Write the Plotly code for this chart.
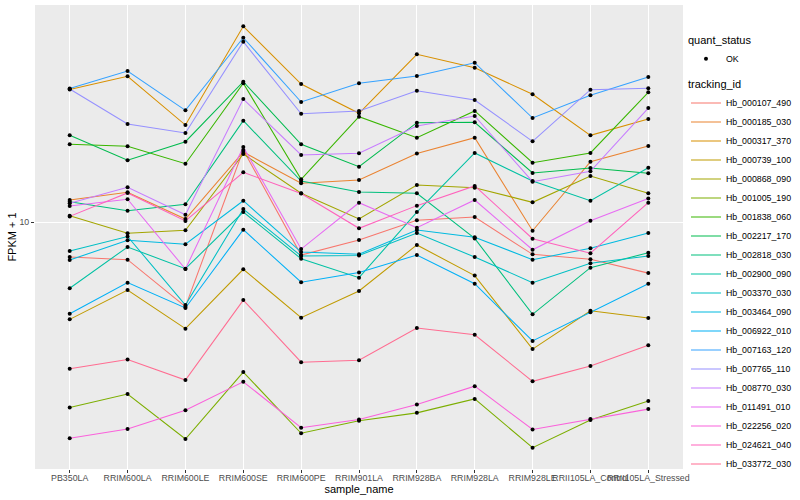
import plotly.graph_objects as go

# ---------------- data (FPKM + 1) ----------------
samples = ["PB350LA", "RRIM600LA", "RRIM600LE", "RRIM600SE", "RRIM600PE",
           "RRIM901LA", "RRIM928BA", "RRIM928LA", "RRIM928LE",
           "RRII105LA_Control", "RRII105LA_Stressed"]

tracking_ids = ["Hb_000107_490", "Hb_000185_030", "Hb_000317_370", "Hb_000739_100",
                "Hb_000868_090", "Hb_001005_190", "Hb_001838_060", "Hb_002217_170",
                "Hb_002818_030", "Hb_002900_090", "Hb_003370_030", "Hb_003464_090",
                "Hb_006922_010", "Hb_007163_120", "Hb_007765_110", "Hb_008770_030",
                "Hb_011491_010", "Hb_022256_020", "Hb_024621_040", "Hb_033772_030"]

hb_000107_490 = [7.83, 7.69, 5.54, 16.53, 7.94, 8.82, 10.12, 10.35, 7.98, 7.71, 7.00]
hb_000185_030 = [11.66, 12.30, 10.21, 16.30, 13.10, 13.41, 16.13, 18.01, 9.41, 15.23, 16.99]
hb_000317_370 = [25.2, 27.64, 19.67, 39.18, 26.19, 21.35, 32.22, 29.35, 24.38, 18.31, 20.51]
hb_000739_100 = [5.07, 6.22, 4.75, 7.19, 5.13, 6.18, 8.52, 6.88, 4.12, 5.38, 5.12]
hb_000868_090 = [10.45, 9.24, 9.44, 16.07, 12.22, 10.21, 12.94, 12.70, 11.47, 13.79, 12.22]
hb_001005_190 = [2.74, 3.01, 2.20, 3.51, 2.29, 2.50, 2.64, 2.91, 2.07, 2.51, 2.87]
hb_001838_060 = [17.20, 16.96, 15.02, 26.33, 13.47, 20.85, 18.01, 21.70, 15.12, 16.19, 24.72]
hb_002217_170 = [18.31, 15.38, 17.51, 26.62, 17.20, 14.71, 20.00, 20.05, 14.08, 14.58, 14.05]
hb_002818_030 = [11.52, 10.82, 11.31, 20.28, 13.31, 12.33, 12.22, 8.92, 5.25, 7.27, 8.07]
hb_002900_090 = [6.30, 8.40, 7.22, 10.72, 7.74, 6.78, 10.72, 16.19, 13.31, 11.60, 14.61]
hb_003370_030 = [8.17, 9.04, 5.60, 10.95, 7.89, 7.92, 9.26, 7.83, 6.55, 7.50, 7.89]
hb_003464_090 = [7.67, 8.80, 8.56, 11.60, 8.11, 7.98, 9.46, 8.99, 7.69, 8.32, 9.26]
hb_006922_010 = [5.27, 6.55, 5.49, 9.48, 6.57, 7.03, 7.94, 6.50, 4.36, 5.33, 6.50]
hb_007163_120 = [25.4, 28.68, 21.80, 36.18, 23.10, 26.33, 27.70, 30.39, 20.66, 24.21, 27.51]
hb_007765_110 = [25.3, 19.82, 18.61, 35.18, 21.29, 21.70, 25.00, 23.42, 17.56, 25.17, 25.42]
hb_008770_030 = [11.39, 12.74, 10.52, 23.58, 15.96, 16.15, 19.54, 20.95, 13.25, 14.24, 22.15]
hb_011491_010 = [11.18, 11.72, 7.20, 16.88, 8.28, 11.44, 9.61, 11.66, 8.24, 10.09, 11.78]
hb_022256_020 = [2.21, 2.36, 2.69, 3.28, 2.38, 2.52, 2.80, 3.18, 2.35, 2.53, 2.71]
hb_024621_040 = [10.40, 12.25, 10.07, 14.14, 12.20, 9.57, 11.21, 12.86, 8.90, 8.04, 11.44]
hb_033772_030 = [3.59, 3.83, 3.32, 5.80, 3.76, 3.81, 4.77, 4.55, 3.29, 3.66, 4.23]

quant_status = "OK"

series = [hb_000107_490, hb_000185_030, hb_000317_370, hb_000739_100, hb_000868_090,
          hb_001005_190, hb_001838_060, hb_002217_170, hb_002818_030, hb_002900_090,
          hb_003370_030, hb_003464_090, hb_006922_010, hb_007163_120, hb_007765_110,
          hb_008770_030, hb_011491_010, hb_022256_020, hb_024621_040, hb_033772_030]

# ---------------- style ----------------
line_colors = ["#F8766D", "#EA8331", "#D89000", "#C09B00", "#A3A500", "#7CAE00",
               "#39B600", "#00BB4E", "#00BF7D", "#00C1A3", "#00BFC4", "#00BAE0",
               "#00B0F6", "#35A2FF", "#9590FF", "#C77CFF", "#E76BF3", "#FA62DB",
               "#FF62BC", "#FF6C91"]
FONT = "Liberation Sans, Arial, Helvetica, sans-serif"

fig = go.Figure()
for tid, vals, col in zip(tracking_ids, series, line_colors):
    fig.add_trace(go.Scatter(x=samples, y=vals, mode="lines", name=tid,
                             line=dict(color=col, width=1.05),
                             legend="legend2", hoverinfo="skip"))
for i, vals in enumerate(series):
    fig.add_trace(go.Scatter(x=samples, y=vals, mode="markers", name=quant_status,
                             marker=dict(color="black", size=4),
                             legend="legend", legendgroup="qs",
                             showlegend=(i == 0), hoverinfo="skip"))

fig.update_layout(
    width=800, height=500,
    margin=dict(l=35, r=117, t=5, b=31, autoexpand=False),
    paper_bgcolor="white", plot_bgcolor="#EBEBEB",
    font=dict(family=FONT, size=11, color="black"),
    xaxis=dict(type="category", range=[-0.6, 10.6], showgrid=True,
               gridcolor="white", gridwidth=1.1, zeroline=False, showline=False,
               ticks="outside", ticklen=3, tickcolor="#333333", tickwidth=1,
               tickangle=0, tickmode="array", tickvals=samples,
               ticklabelstandoff=-3,
               tickfont=dict(size=8.8, color="#4D4D4D"),
               title=dict(text="sample_name", font=dict(size=11), standoff=3)),
    yaxis=dict(type="log", range=[0.2515, 1.6576], tickvals=[10], ticktext=["10"],
               showgrid=True, gridcolor="white", gridwidth=1.1, zeroline=False,
               showline=False, ticks="outside", ticklen=3, tickcolor="#333333",
               tickwidth=1, tickfont=dict(size=8.8, color="#4D4D4D"),
               title=dict(text="FPKM + 1", font=dict(size=11), standoff=0)),
    legend=dict(title=dict(text="quant_status", font=dict(size=11)),
                x=1.0046, y=0.9461, xanchor="left", yanchor="top",
                font=dict(size=8.8), bgcolor="rgba(0,0,0,0)", borderwidth=0),
    legend2=dict(title=dict(text="tracking_id", font=dict(size=11)),
                 x=1.0046, y=0.8509, xanchor="left", yanchor="top",
                 font=dict(size=8.8), bgcolor="rgba(0,0,0,0)", borderwidth=0),
)

fig.write_html("out.html",
               config={"displayModeBar": False},
               post_script="document.body.style.margin='0';"
                           "document.body.style.overflow='hidden';")
